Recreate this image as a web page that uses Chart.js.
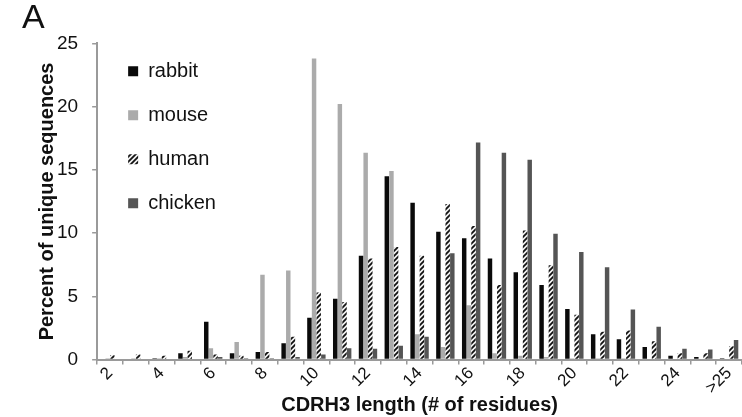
<!DOCTYPE html>
<html>
<head>
<meta charset="utf-8">
<script src="https://cdn.jsdelivr.net/npm/chart.js@4/dist/chart.umd.min.js"></script>
<style>
  html, body { margin: 0; padding: 0; background: #ffffff; }
  #wrap { width: 742px; height: 417px; position: relative; }
</style>
</head>
<body>
<div id="wrap"><canvas id="c"></canvas></div>
<script>
// CDRH3 length categories (also used as x tick labels)
const categories = ['2','3','4','5','6','7','8','9','10','11','12','13','14','15','16','17','18','19','20','21','22','23','24','25','>25'];

// Percent of unique sequences per species
const rabbit  = [0, 0, 0.1, 0.5, 3.0, 0.5, 0.6, 1.3, 3.3, 4.8, 8.2, 14.5, 12.4, 10.1, 9.6, 8.0, 6.9, 5.9, 4.0, 2.0, 1.6, 1.0, 0.3, 0.2, 0.1];
const mouse   = [0.1, 0.1, 0.1, 0.2, 0.9, 1.4, 6.7, 7.05, 23.8, 20.2, 16.35, 14.9, 2.0, 1.0, 4.3, 0.5, 0.3, 0.2, 0.1, 0.1, 0.1, 0, 0, 0, 0];
const human   = [0.35, 0.4, 0.3, 0.7, 0.4, 0.3, 0.6, 1.8, 5.3, 4.55, 8.0, 8.9, 8.2, 12.3, 10.55, 5.9, 10.2, 7.45, 3.55, 2.2, 2.3, 1.45, 0.5, 0.5, 1.05];
const chicken = [0, 0, 0, 0, 0.2, 0.1, 0.1, 0.2, 0.4, 0.9, 0.85, 1.1, 1.8, 8.4, 17.15, 16.35, 15.8, 9.95, 8.5, 7.3, 3.95, 2.6, 0.85, 0.8, 1.55];

const seriesNames = ['rabbit', 'mouse', 'human', 'chicken'];
const yTicks = [0, 5, 10, 15, 20, 25];

function hatchPattern() {
  const s = 5;
  const c = document.createElement('canvas');
  c.width = s; c.height = s;
  const g = c.getContext('2d');
  g.fillStyle = '#f2f2f2';
  g.fillRect(0, 0, s, s);
  g.strokeStyle = '#111111';
  g.lineWidth = 1.8;
  g.beginPath();
  g.moveTo(-1, 1); g.lineTo(1, -1);
  g.moveTo(0, s); g.lineTo(s, 0);
  g.moveTo(s - 1, s + 1); g.lineTo(s + 1, s - 1);
  g.stroke();
  return g.createPattern(c, 'repeat');
}

const FONT = '"Liberation Sans", Arial, Helvetica, sans-serif';

// place the legend inside the plot, near its top-left corner
const legendShift = {
  id: 'legendShift',
  afterLayout(chart) {
    const l = chart.legend, a = chart.chartArea;
    if (l && a) {
      l.left = a.left + 7;
      l.right = a.right;
      l.top = a.top - 6;
      l.bottom = a.bottom;
    }
  }
};

new Chart(document.getElementById('c'), {
  type: 'bar',
  data: {
    labels: categories,
    datasets: [
      { label: seriesNames[0], data: rabbit,  backgroundColor: '#0a0a0a', borderWidth: 0 },
      { label: seriesNames[1], data: mouse,   backgroundColor: '#ababab', borderWidth: 0 },
      { label: seriesNames[2], data: human,   backgroundColor: hatchPattern(), borderWidth: 0 },
      { label: seriesNames[3], data: chicken, backgroundColor: '#555555', borderWidth: 0 }
    ]
  },
  plugins: [legendShift],
  options: {
    responsive: true,
    maintainAspectRatio: false,
    devicePixelRatio: 1,
    animation: false,
    layout: { padding: { left: 22, right: 0, top: 0, bottom: 0 } },
    datasets: { bar: { categoryPercentage: 0.72, barPercentage: 0.96 } },
    plugins: {
      tooltip: { enabled: false },
      title: {
        display: true,
        text: 'A',
        align: 'start',
        color: '#111',
        font: { family: FONT, size: 34, weight: 'normal', lineHeight: 1 },
        padding: { top: 2, bottom: 7.3 }
      },
      legend: {
        position: 'chartArea',
        align: 'start',
        labels: {
          color: '#111',
          font: { family: FONT, size: 20 },
          boxWidth: 10,
          boxHeight: 10,
          padding: 24
        }
      }
    },
    scales: {
      x: {
        grid: { display: true, drawOnChartArea: false, offset: true, color: '#9a9a9a', tickLength: 5, lineWidth: 1.5 },
        border: { display: true, color: '#9a9a9a', width: 2 },
        ticks: {
          autoSkip: false,
          maxRotation: 45,
          minRotation: 45,
          padding: 0,
          color: '#111',
          font: { family: FONT, size: 17, lineHeight: 1 },
          callback: function (value, index) { return index % 2 === 0 ? categories[index] : ''; }
        },
        title: {
          display: true,
          text: 'CDRH3 length (# of residues)',
          color: '#111',
          font: { family: FONT, size: 20, weight: 'bold', lineHeight: 1 },
          padding: { top: -2, bottom: 2 }
        }
      },
      y: {
        min: 0,
        max: 25,
        afterBuildTicks: function (axis) { axis.ticks = yTicks.map(v => ({ value: v })); },
        grid: { display: true, drawOnChartArea: false, color: '#9a9a9a', tickLength: 5, lineWidth: 1.5 },
        border: { display: true, color: '#9a9a9a', width: 2 },
        ticks: {
          padding: 14,
          color: '#111',
          font: { family: FONT, size: 19 }
        },
        title: {
          display: true,
          text: 'Percent of unique sequences',
          color: '#111',
          font: { family: FONT, size: 20, weight: 'bold', lineHeight: 1 },
          padding: { top: 15.5, bottom: -14.5 }
        }
      }
    }
  }
});
</script>
</body>
</html>
